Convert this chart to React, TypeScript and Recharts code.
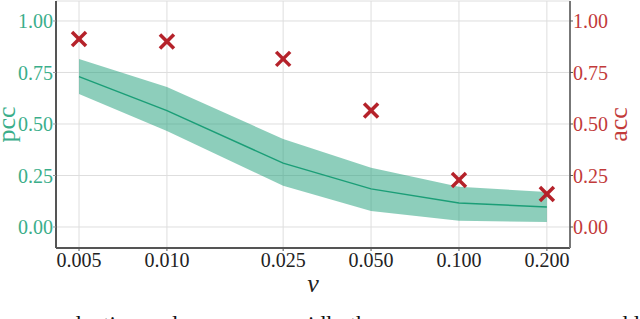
import React from 'react';
import {
  ComposedChart,
  Area,
  Line,
  Scatter,
  XAxis,
  YAxis,
  CartesianGrid,
} from 'recharts';

// values
const nuValues = [0.005, 0.01, 0.025, 0.05, 0.1, 0.2];
const pccMean = [0.73, 0.565, 0.31, 0.185, 0.117, 0.097];
const pccLow = [0.645, 0.466, 0.2, 0.078, 0.03, 0.024];
const pccHigh = [0.815, 0.68, 0.427, 0.287, 0.195, 0.17];
const accValues = [0.913, 0.9, 0.816, 0.565, 0.228, 0.16];

const xTicks = [0.005, 0.01, 0.025, 0.05, 0.1, 0.2];
const xTickLabels = ['0.005', '0.010', '0.025', '0.050', '0.100', '0.200'];
const xMinorTicks = [0.006, 0.007, 0.008, 0.009, 0.02, 0.03, 0.04, 0.06, 0.07, 0.08, 0.09];
const yTicks = [0, 0.25, 0.5, 0.75, 1];
const yTickLabels = ['0.00', '0.25', '0.50', '0.75', '1.00'];

const xDomain: [number, number] = [0.00417, 0.24];
const yDomain: [number, number] = [-0.102, 1.097];

const TEAL = '#1b9e77';
const TEAL_TEXT = '#3aae8a';
const RED = '#b5222a';
const RED_TEXT = '#c23a3a';
const SPINE = '#555555';
const FONT = '"Liberation Serif", "DejaVu Serif", serif';

const data = nuValues.map((nu, i) => ({
  nu,
  mean: pccMean[i],
  band: [pccLow[i], pccHigh[i]],
  acc: accValues[i],
}));

const CrossMark = (props: any) => {
  const { cx, cy } = props;
  if (cx == null || cy == null) return null;
  const s = 7;
  return (
    <g stroke={RED} strokeWidth={3.5}>
      <line x1={cx - s} y1={cy - s} x2={cx + s} y2={cy + s} />
      <line x1={cx - s} y1={cy + s} x2={cx + s} y2={cy - s} />
    </g>
  );
};

const fmtY = (v: number) => yTickLabels[yTicks.indexOf(v)] ?? String(v);
const fmtX = (v: number) => xTickLabels[xTicks.indexOf(v)] ?? String(v);

export default function App() {
  return (
    <div style={{ position: 'absolute', left: 0, top: 0, width: 640, height: 319, background: '#fff' }}>
      <ComposedChart
        width={640}
        height={319}
        data={data}
        margin={{ top: 1, right: 0, left: 0, bottom: 0 }}
      >
        <CartesianGrid
          xAxisId="major"
          yAxisId="left"
          stroke="#dedede"
          strokeWidth={1}
          verticalValues={xTicks}
        />
        <XAxis
          xAxisId="minor"
          dataKey="nu"
          type="number"
          scale="log"
          domain={xDomain}
          allowDataOverflow
          ticks={xMinorTicks}
          interval={0}
          tick={false}
          tickSize={3}
          tickLine={{ stroke: SPINE, strokeWidth: 1 }}
          axisLine={false}
          height={0}
        />
        <XAxis
          xAxisId="major"
          dataKey="nu"
          type="number"
          scale="log"
          domain={xDomain}
          allowDataOverflow
          ticks={xTicks}
          interval={0}
          tickFormatter={fmtX}
          tickSize={3}
          tickMargin={2}
          tickLine={{ stroke: SPINE }}
          axisLine={{ stroke: SPINE, strokeWidth: 2 }}
          tick={{ fill: '#222', fontSize: 20, fontFamily: FONT }}
          height={71}
          label={{
            content: () => (
              <g>
                <text
                  x={313}
                  y={283}
                  textAnchor="middle"
                  dominantBaseline="central"
                  fontFamily={FONT}
                  fontStyle="italic"
                  fontSize={26}
                  fill="#222"
                >
                  ν
                </text>
                <text
                  x={52}
                  y={332}
                  fontFamily={FONT}
                  fontSize={23}
                  fill="#111"
                >
                  reduction and so a more rapidly the accuracy measure saw and li
                </text>
              </g>
            ),
          }}
        />
        <XAxis
          xAxisId="top"
          dataKey="nu"
          type="number"
          scale="log"
          domain={xDomain}
          allowDataOverflow
          orientation="top"
          tick={false}
          tickLine={false}
          axisLine={{ stroke: SPINE, strokeWidth: 1.5 }}
          height={0}
        />
        <YAxis
          yAxisId="left"
          type="number"
          domain={yDomain}
          allowDataOverflow
          ticks={yTicks}
          interval={0}
          tickFormatter={fmtY}
          width={56}
          tickSize={3}
          tickMargin={0}
          tickLine={{ stroke: '#999' }}
          axisLine={{ stroke: SPINE, strokeWidth: 2 }}
          tick={{ fill: TEAL_TEXT, fontSize: 20, fontFamily: FONT }}
          label={{
            content: () => (
              <text
                x={15}
                y={124.5}
                transform="rotate(-90 15 124.5)"
                textAnchor="middle"
                fontFamily={FONT}
                fontSize={26}
                fill={TEAL_TEXT}
              >
                pcc
              </text>
            ),
          }}
        />
        <YAxis
          yAxisId="right"
          orientation="right"
          type="number"
          domain={yDomain}
          allowDataOverflow
          ticks={yTicks}
          interval={0}
          tickFormatter={fmtY}
          width={70}
          tickSize={3}
          tickMargin={0}
          tickLine={{ stroke: SPINE }}
          axisLine={{ stroke: '#777', strokeWidth: 2 }}
          tick={{ fill: RED_TEXT, fontSize: 20, fontFamily: FONT }}
          label={{
            content: () => (
              <text
                x={627}
                y={124.5}
                transform="rotate(-90 627 124.5)"
                textAnchor="middle"
                fontFamily={FONT}
                fontSize={26}
                fill={RED_TEXT}
              >
                acc
              </text>
            ),
          }}
        />
        <Area
          xAxisId="major"
          yAxisId="left"
          dataKey="band"
          type="linear"
          stroke="none"
          fill={TEAL}
          fillOpacity={0.5}
          isAnimationActive={false}
        />
        <Line
          xAxisId="major"
          yAxisId="left"
          dataKey="mean"
          type="linear"
          stroke={TEAL}
          strokeWidth={1.5}
          dot={false}
          isAnimationActive={false}
        />
        <Scatter
          xAxisId="major"
          yAxisId="right"
          dataKey="acc"
          shape={CrossMark}
          isAnimationActive={false}
        />
      </ComposedChart>
    </div>
  );
}
